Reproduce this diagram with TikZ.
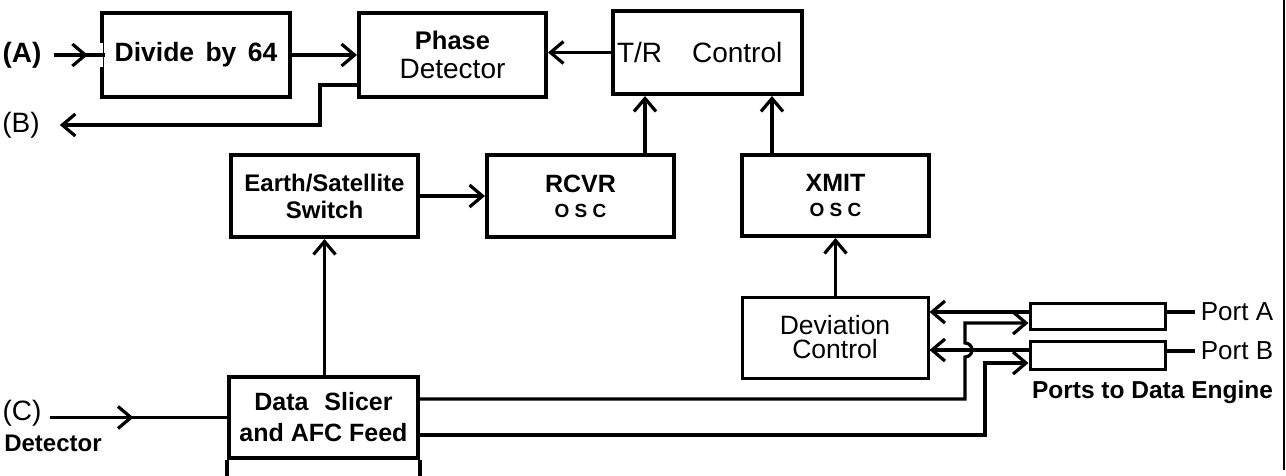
\documentclass[tikz,border=0pt]{standalone}
\usepackage{fontspec}
\setmainfont{Liberation Sans}
\usetikzlibrary{arrows.meta,decorations.markings,calc}
\newcommand\myreg{\fontsize{28}{30}\selectfont}
\newcommand\mybold{\fontsize{26.5}{28}\selectfont\bfseries}
\begin{document}
\begin{tikzpicture}[x=1pt,y=-1pt,
  box/.style={draw, line width=4pt, inner sep=0pt, align=center, minimum width=188pt, minimum height=83pt},
  thinbox/.style={draw, line width=3pt, inner sep=0pt, align=center},
  lbl/.style={inner sep=2pt},
  conn/.style={line width=3.2pt},
  arr/.style={conn, -{Straight Barb[length=13pt,width=22pt]}},
  midarr/.style={conn, postaction={decorate}, decoration={markings, mark=at position #1 with {\arrow{Straight Barb[length=13pt,width=22pt]}}}}
]
\useasboundingbox (0,0) rectangle (1286,475);

% blocks
\node[box, minimum width=188pt, minimum height=84pt, font=\mybold] (div) at (196,55) {Divide\hspace{4pt} by\hspace{4pt} 64};
\node[box, minimum width=187pt, minimum height=84pt, font=\myreg] (phase) at (452.5,55) {{\fontsize{25.5}{27}\selectfont\bfseries Phase}\\[-1pt]Detector};
\node[box, minimum width=189pt, minimum height=83pt, align=left, text width=181pt, inner xsep=4pt, font=\myreg] (tr) at (707.5,52.5) {T/R\hspace{30pt}Control};
\node[box, minimum width=187pt, minimum height=82pt, font=\fontsize{24}{27}\selectfont\bfseries] (es) at (324.5,196) {Earth/Satellite\\Switch};
\node[box, minimum width=187pt, minimum height=82pt, font=\fontsize{25}{27}\selectfont\bfseries] (rcvr) at (580.5,196) {RCVR\\[-2pt]{\fontsize{19}{20}\selectfont O S C}};
\node[box, minimum width=187pt, minimum height=81pt, font=\fontsize{25}{27}\selectfont\bfseries] (xmit) at (835.5,195.5) {XMIT\\[-2pt]{\fontsize{19}{20}\selectfont O S C}};
\node[thinbox, minimum width=186pt, minimum height=81pt, font=\fontsize{26.5}{24}\selectfont] (dev) at (835,337.5) {Deviation\\Control};
\node[thinbox, minimum width=135pt, minimum height=26pt] (portA) at (1097.5,316) {};
\node[thinbox, minimum width=135pt, minimum height=28pt] (portB) at (1097.5,355) {};
\node[box, minimum width=189pt, minimum height=81pt, font=\fontsize{25}{31}\selectfont\bfseries] (ds) at (323.5,417.5) {Data\hspace{9pt} Slicer\\and AFC Feed};

% labels
\node[lbl, font=\fontsize{28}{30}\selectfont\bfseries] (la) at (22,55) {(A)};
\node[lbl, font=\myreg] (lb) at (21,125) {(B)};
\node[lbl, font=\myreg] (lc) at (22,413) {(C)};
\node[lbl, font=\fontsize{24}{26}\selectfont\bfseries] (ldet) at (53,443) {Detector};
\node[lbl, font=\fontsize{26}{28}\selectfont] (pa) at (1237,312) {Port A};
\node[lbl, font=\fontsize{26}{28}\selectfont] (pb) at (1237,351) {Port B};
\node[lbl, font=\fontsize{24.5}{26}\selectfont\bfseries] (pde) at (1152.5,392) {Ports to Data Engine};

% helper coordinates
\coordinate (x645) at (645,0);
\coordinate (x772) at (772,0);
\coordinate (ya) at (0,312);
\coordinate (yb) at (0,350);
\coordinate (yc) at (0,323);
\coordinate (yd) at (0,363);
\coordinate (y399) at (0,399);
\coordinate (y435) at (0,435);

% gap in the left edge of the divider box
\draw[white, line width=6pt] ($(div.west)+(0,-12)$) -- ($(div.west)+(0,12)$);

% connectors
\draw[midarr=0.72, shorten <=10pt] (la) -- ($(div.west)+(5,0)$);
\draw[arr] (div) -- (phase);
\coordinate (pd0) at ($(phase.south west)+(0,-14)$);
\draw[arr, shorten >=18pt] (pd0) -- ++(-37,0) |- (lb);
\draw[arr] (tr.west) -- (phase.east |- tr.west);
\draw[arr] (rcvr.north -| x645) -- (tr.south -| x645);
\draw[arr] (xmit.north -| x772) -- (tr.south -| x772);
\draw[arr] (es) -- (rcvr);
\draw[arr] (es.south |- ds.north) -- (es.south);
\draw[arr] (xmit.south |- dev.north) -- (xmit.south);
\draw[arr] (portA.west |- ya) -- (dev.east |- ya);
\draw[arr] (portB.west |- yb) -- (dev.east |- yb);
\draw[arr] (ds.east |- y399) -- (965,399) -- (965,357) arc[start angle=-90, end angle=90, radius=7pt] -- (965,323) -- (portA.west |- yc);
\draw[arr] (ds.east |- y435) -- (985,435) -- (985,363) -- (portB.west |- yd);
\draw[conn, shorten >=4pt] (portA.east |- pa.west) -- (pa.west);
\draw[conn, shorten >=4pt] (portB.east |- pb.west) -- (pb.west);
\draw[midarr=0.49, shorten <=6pt] (lc.east |- ds.west) -- (ds.west);

% partial box below the data slicer
\draw[line width=4pt] (ds.south west) -- ++(0,20);
\draw[line width=4pt] (ds.south east) -- ++(0,20);

% right border
\draw[line width=2.5pt] (1284,0) -- (1284,470);
\end{tikzpicture}
\end{document}
